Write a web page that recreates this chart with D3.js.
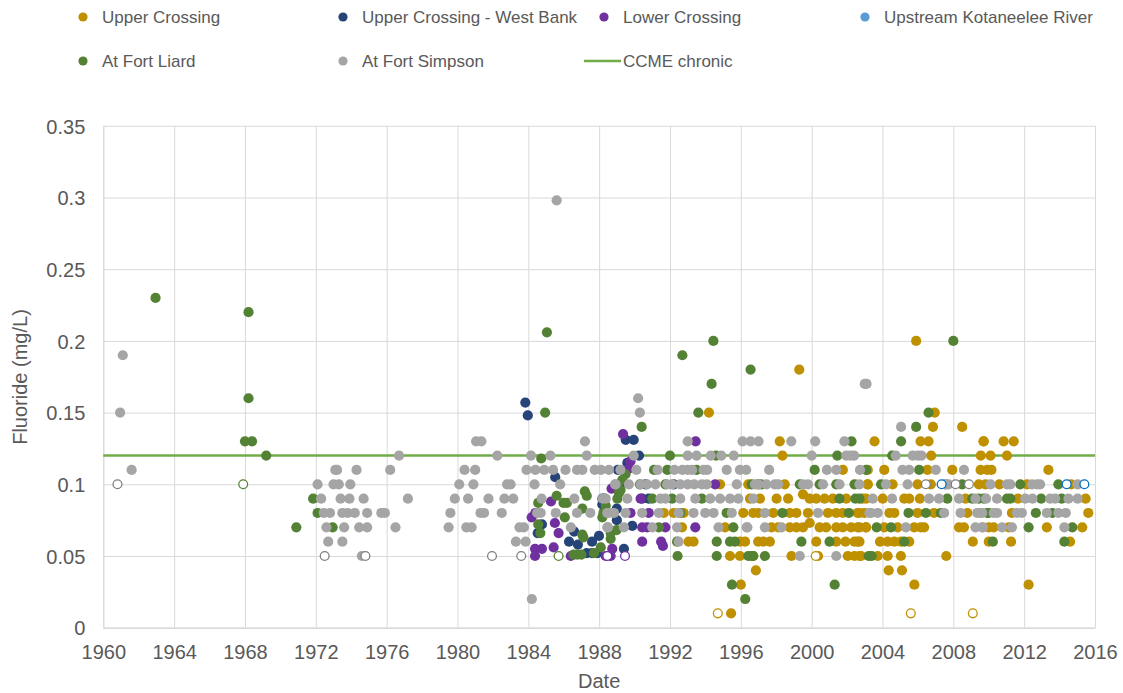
<!DOCTYPE html>
<html>
<head>
<meta charset="utf-8">
<script src="https://cdn.jsdelivr.net/npm/d3@7/dist/d3.min.js"></script>
<style>
  html, body { margin: 0; padding: 0; background: #ffffff; }
  svg { display: block; }
  text { font-family: "Liberation Sans", Arial, sans-serif; fill: #595959; }
</style>
</head>
<body>
<svg id="chart" width="1123" height="693"></svg>
<script>
// ---------------- DATA ----------------
const xTicks = [1960, 1964, 1968, 1972, 1976, 1980, 1984, 1988, 1992, 1996, 2000, 2004, 2008, 2012, 2016];
const yTicks = [0, 0.05, 0.1, 0.15, 0.2, 0.25, 0.3, 0.35];
const yTickLabels = ["0", "0.05", "0.1", "0.15", "0.2", "0.25", "0.3", "0.35"];
const ccmeChronic = 0.12;
const xTitle = "Date";
const yTitle = "Fluoride (mg/L)";

const seriesNames = ["Upper Crossing", "Upper Crossing - West Bank", "Lower Crossing",
  "Upstream Kotaneelee River", "At Fort Liard", "At Fort Simpson", "CCME chronic"];
const seriesColors = ["#BF9000", "#264478", "#7030A0", "#5B9BD5", "#548235", "#A5A5A5", "#70AD47"];

// [decimal year, fluoride mg/L] ; "ND" arrays are values below detection limit (open markers)
const upperCrossing = [
  [1994.2,0.15],[1999.3,0.18],[2005.9,0.2],
  [1994.83,0.10],[1996.42,0.10],[1996.52,0.09],[1991.65,0.08],[1992.21,0.08],[1992.77,0.08],[1996.14,0.08],[1996.7,0.08],
  [1992.68,0.07],[1995.11,0.07],[1993.05,0.06],[1993.33,0.06],[1996.24,0.06],[1996.98,0.06],
  [1995.39,0.05],[1995.95,0.05],[1996.7,0.05],[1996.85,0.04],[1996.0,0.03],[1995.45,0.01],
  [1998.2,0.13],[1998.35,0.12],[2001.76,0.11],[1998.48,0.10],[2003.16,0.10],
  [1997.08,0.09],[1998.02,0.09],[1998.67,0.09],[1999.51,0.093],[1999.89,0.09],[2000.26,0.09],[2000.73,0.09],[2001.2,0.09],[2001.95,0.09],[2002.88,0.09],
  [1996.99,0.08],[1997.83,0.08],[1998.76,0.08],[1999.14,0.08],[1999.79,0.08],[2000.92,0.08],[2001.39,0.08],[2001.76,0.08],[2002.6,0.08],[2002.98,0.08],
  [1997.73,0.07],[1998.11,0.07],[1998.76,0.07],[1999.14,0.07],[1999.51,0.07],[1999.89,0.073],[2000.45,0.07],[2000.82,0.07],[2001.39,0.07],[2001.76,0.07],[2002.23,0.07],[2002.6,0.07],[2003.07,0.07],
  [1995.96,0.06],[1997.27,0.06],[1997.64,0.06],[2000.26,0.06],[2001.39,0.06],[2001.91,0.06],[2002.42,0.06],[2002.6,0.06],
  [1998.86,0.05],[2000.36,0.05],[2002.04,0.05],[2002.42,0.05],[2002.79,0.05],
  [2006.95,0.15],[2006.85,0.14],[2008.5,0.14],[2003.55,0.13],[2006.15,0.13],[2006.6,0.13],[2009.7,0.13],[2006.75,0.12],[2009.55,0.12],
  [2003.17,0.11],[2004.1,0.11],[2006.54,0.11],[2007.94,0.11],[2009.54,0.11],[2009.91,0.11],
  [2003.17,0.10],[2004.57,0.10],[2005.98,0.10],[2006.73,0.10],[2009.44,0.10],[2009.82,0.10],
  [2003.07,0.09],[2004.01,0.09],[2005.23,0.09],[2005.51,0.09],[2006.11,0.09],[2008.69,0.09],
  [2002.7,0.08],[2004.39,0.08],[2004.67,0.08],[2005.98,0.08],[2006.91,0.08],[2008.79,0.08],
  [2002.7,0.07],[2003.07,0.07],[2004.1,0.07],[2004.85,0.07],[2005.79,0.07],[2006.16,0.07],[2006.35,0.07],[2008.32,0.07],[2008.6,0.07],[2010.0,0.07],
  [2002.7,0.06],[2003.86,0.06],[2004.29,0.06],[2004.67,0.06],[2005.04,0.06],[2005.51,0.06],[2009.1,0.06],[2010.0,0.06],
  [2002.7,0.05],[2003.73,0.05],[2004.29,0.05],[2005.04,0.05],[2007.6,0.05],[2004.35,0.04],[2005.1,0.04],[2005.8,0.03],
  [2009.72,0.13],[2010.84,0.13],[2011.41,0.13],[2010.1,0.12],[2011.03,0.12],[2010.15,0.11],[2013.37,0.11],
  [2010.6,0.10],[2012.16,0.10],[2014.65,0.10],[2011.65,0.09],[2015.47,0.09],[2011.31,0.08],[2015.62,0.08],
  [2010.28,0.07],[2011.13,0.07],[2013.28,0.07],[2015.28,0.07],[2011.26,0.06],[2014.59,0.06],[2012.25,0.03]
];
const upperCrossingND = [[1994.7,0.01],[2005.6,0.01],[2009.1,0.01],[2000.23,0.05]];

const upperCrossingWestBank = [
  [1983.83,0.157],[1983.97,0.148],[1985.52,0.105],[1984.77,0.072],[1984.53,0.066],[1986.59,0.067],[1987.99,0.064],
  [1987.3,0.052],[1987.6,0.052],[1987.9,0.052],[1989.06,0.11],[1988.18,0.086],[1989.0,0.083],[1989.0,0.075],
  [1989.5,0.131],[1989.95,0.131],[1990.25,0.12],[1989.59,0.115],[1988.18,0.09],[1989.87,0.071],[1989.4,0.055],
  [1989.21,0.10],[1990.62,0.10],[1992.21,0.10],[1988.28,0.09],[1990.43,0.09],[1990.8,0.09],
  [1986.3,0.06],[1986.8,0.058],[1987.6,0.06]
];

const lowerCrossing = [
  [1985.28,0.088],[1984.19,0.077],[1985.5,0.073],[1985.71,0.066],[1984.38,0.055],[1984.77,0.055],[1984.38,0.05],
  [1985.43,0.056],[1986.4,0.05],[1988.7,0.097],[1988.74,0.055],[1984.4,0.08],[1989.35,0.135],[1989.77,0.116],
  [1989.68,0.111],[1988.37,0.05],[1988.65,0.05],[1990.34,0.09],[1989.77,0.08],[1990.8,0.08],[1990.43,0.07],
  [1990.71,0.07],[1991.74,0.07],[1993.43,0.07],[1990.43,0.06],[1991.5,0.06],[1991.6,0.057],[1993.45,0.13],[1994.55,0.10]
];
const lowerCrossingND = [[1988.46,0.05],[1989.46,0.05]];

const upstreamKotaneelee = [[2007.55,0.10]];
const upstreamKotaneeleeND = [[2007.34,0.10],[2014.4,0.10],[2015.4,0.10]];

const atFortLiard = [
  [1962.95,0.23],[1968.2,0.22],[1968.2,0.16],[1968.0,0.13],[1968.4,0.13],[1969.2,0.12],[1970.9,0.07],[1971.85,0.09],[1972.1,0.08],[1972.95,0.07],
  [1984.95,0.15],[1985.05,0.206],[1984.73,0.118],[1985.6,0.092],[1985.99,0.087],[1986.18,0.087],[1984.56,0.087],[1984.56,0.072],
  [1984.68,0.066],[1986.06,0.077],[1987.05,0.083],[1987.19,0.095],[1987.3,0.092],[1987.05,0.065],[1987.11,0.063],[1988.18,0.077],
  [1988.65,0.066],[1988.65,0.062],[1986.55,0.051],[1986.77,0.051],[1987.0,0.051],[1987.71,0.052],[1988.09,0.056],[1989.12,0.094],
  [1988.98,0.068],[1989.49,0.107],[1989.3,0.103],[1989.21,0.096],[1988.37,0.085],[1988.24,0.08],
  [1990.4,0.14],[1993.6,0.15],[1992.0,0.12],[1994.6,0.12],[1991.1,0.11],[1991.85,0.11],[1993.5,0.11],
  [1990.3,0.10],[1991.74,0.10],[1996.61,0.10],[1996.98,0.10],[1989.03,0.09],[1991.0,0.09],[1992.12,0.09],[1993.8,0.09],
  [1992.58,0.08],[1995.2,0.08],[1991.37,0.07],[1995.58,0.07],[1992.4,0.06],[1994.64,0.06],[1995.39,0.06],[1995.67,0.06],
  [1992.43,0.05],[1994.64,0.05],[1996.61,0.05],[1992.7,0.19],[1994.45,0.20],[1994.35,0.17],[1996.55,0.18],[1995.5,0.03],[1996.25,0.02],
  [1997.17,0.10],[1999.33,0.10],[2000.45,0.10],[2001.39,0.10],[2002.42,0.10],[2001.57,0.09],[2002.47,0.09],[1998.35,0.08],[2002.1,0.08],
  [1999.42,0.06],[2001.01,0.06],[1996.42,0.05],[1996.7,0.05],[1997.36,0.05],[2003.22,0.05],[2002.25,0.13],[2001.45,0.12],
  [2000.17,0.11],[2003.07,0.11],[2001.3,0.03],
  [2006.6,0.15],[2005.9,0.14],[2005.05,0.13],[2004.55,0.12],[2006.07,0.11],[2003.92,0.10],[2008.5,0.10],
  [2002.7,0.09],[2007.66,0.09],[2009.07,0.09],[2009.72,0.09],[2005.47,0.08],[2006.45,0.08],[2007.29,0.08],[2009.91,0.08],
  [2003.67,0.07],[2004.48,0.07],[2005.23,0.06],[2003.39,0.05],[2008.0,0.2],
  [2011.78,0.10],[2013.93,0.10],[2009.44,0.09],[2011.03,0.09],[2011.22,0.09],[2012.96,0.09],[2014.12,0.09],
  [2010.0,0.08],[2012.66,0.08],[2013.6,0.08],[2012.25,0.07],[2014.72,0.07],[2010.23,0.06],[2014.27,0.06]
];
const atFortLiardND = [[1967.9,0.10],[1985.71,0.05]];

const atFortSimpson = [
  [1960.95,0.15],[1961.1,0.19],[1961.6,0.11],
  [1972.1,0.10],[1973.0,0.10],[1973.1,0.11],[1972.3,0.09],[1972.45,0.08],[1972.8,0.08],[1972.6,0.07],[1972.7,0.06],
  [1973.2,0.11],[1974.3,0.11],[1976.2,0.11],[1976.7,0.12],[1973.3,0.10],[1973.95,0.10],
  [1973.4,0.09],[1973.9,0.09],[1974.7,0.09],[1977.2,0.09],
  [1973.5,0.08],[1973.8,0.08],[1974.2,0.08],[1974.9,0.08],[1975.7,0.08],[1975.9,0.08],
  [1973.6,0.07],[1974.45,0.07],[1974.9,0.07],[1976.5,0.07],[1973.5,0.06],[1974.6,0.05],
  [1980.4,0.11],[1981.0,0.11],[1981.05,0.13],[1981.35,0.13],[1980.1,0.10],[1980.9,0.10],[1979.85,0.09],[1980.6,0.09],
  [1979.6,0.08],[1981.3,0.08],[1979.5,0.07],[1980.5,0.07],[1980.8,0.07],
  [1982.25,0.12],[1982.8,0.10],[1983.0,0.10],[1981.75,0.09],[1982.65,0.09],[1983.15,0.09],[1981.5,0.08],[1982.5,0.08],
  [1983.5,0.07],[1983.75,0.07],[1983.3,0.06],[1983.85,0.06],
  [1984.15,0.12],[1985.25,0.12],[1987.3,0.12],[1987.2,0.13],[1983.9,0.11],[1984.4,0.11],[1984.9,0.11],[1985.4,0.11],
  [1986.1,0.11],[1986.75,0.11],[1987.05,0.11],[1987.75,0.11],[1988.1,0.11],[1988.55,0.11],
  [1984.35,0.10],[1985.8,0.10],[1988.9,0.10],[1984.75,0.09],[1986.6,0.09],[1988.2,0.09],
  [1984.5,0.08],[1984.7,0.08],[1985.55,0.08],[1986.75,0.08],[1987.5,0.08],[1988.5,0.08],[1988.75,0.08],
  [1986.4,0.07],[1988.5,0.07],[1984.2,0.02],[1985.6,0.298],
  [1990.2,0.16],[1990.3,0.15],[1993.0,0.13],[1996.1,0.13],[1996.55,0.13],[1997.0,0.13],
  [1989.95,0.12],[1993.0,0.12],[1993.5,0.12],[1994.3,0.12],[1994.9,0.12],[1995.6,0.12],
  [1989.2,0.11],[1990.1,0.11],[1991.3,0.11],[1992.25,0.11],[1992.7,0.11],[1993.0,0.11],[1993.25,0.11],[1993.9,0.11],
  [1994.1,0.11],[1995.2,0.11],[1995.95,0.11],[1996.3,0.11],
  [1988.93,0.10],[1989.68,0.10],[1990.34,0.10],[1990.71,0.10],[1991.18,0.10],[1991.84,0.10],[1992.12,0.10],[1992.58,0.10],
  [1993.0,0.10],[1993.37,0.10],[1993.8,0.10],[1994.08,0.10],[1995.77,0.10],[1996.8,0.10],
  [1988.37,0.09],[1989.59,0.09],[1991.46,0.09],[1991.74,0.09],[1992.58,0.09],[1993.43,0.09],[1994.27,0.09],[1994.83,0.09],
  [1995.39,0.09],[1995.86,0.09],[1996.7,0.09],
  [1988.46,0.08],[1988.84,0.08],[1989.49,0.08],[1990.43,0.08],[1991.37,0.08],[1992.49,0.08],[1993.33,0.08],[1993.99,0.08],
  [1994.46,0.08],[1995.49,0.08],
  [1988.46,0.07],[1989.4,0.07],[1991.0,0.07],[1992.4,0.07],[1994.74,0.07],[1996.33,0.07],[1992.49,0.06],
  [1998.85,0.13],[2000.2,0.13],[2001.85,0.13],[2000.0,0.12],[2001.95,0.12],[2002.2,0.12],[2002.4,0.12],
  [1997.6,0.11],[2000.86,0.11],[2001.39,0.11],[2002.73,0.11],
  [1997.0,0.10],[1997.45,0.10],[1997.92,0.10],[1998.11,0.10],[1999.51,0.10],[1999.79,0.10],[2000.64,0.10],[2001.57,0.10],[2002.7,0.10],
  [1997.36,0.08],[2000.36,0.08],[2003.26,0.08],[1996.37,0.07],[1997.36,0.07],[1998.3,0.07],[1999.33,0.05],[2001.39,0.05],
  [2003.0,0.17],[2003.1,0.17],
  [2005.05,0.14],[2004.75,0.12],[2005.7,0.12],[2006.0,0.12],[2006.2,0.12],[2005.13,0.11],[2005.51,0.11],[2007.01,0.11],[2008.6,0.11],
  [2004.2,0.10],[2005.42,0.10],[2007.57,0.10],[2007.72,0.10],
  [2003.45,0.09],[2004.54,0.09],[2006.63,0.09],[2007.19,0.09],[2008.32,0.09],[2009.25,0.09],
  [2003.36,0.08],[2003.73,0.08],[2007.48,0.08],[2008.41,0.08],[2009.35,0.08],[2009.63,0.08],
  [2005.32,0.07],[2009.25,0.07],[2009.67,0.07],
  [2010.1,0.10],[2011.03,0.10],[2011.22,0.10],[2012.44,0.10],[2012.72,0.10],[2012.9,0.10],[2015.02,0.10],
  [2009.85,0.09],[2010.47,0.09],[2012.06,0.09],[2012.47,0.09],[2013.47,0.09],[2013.75,0.09],[2014.5,0.09],[2015.02,0.09],
  [2009.53,0.08],[2010.28,0.08],[2010.47,0.08],[2011.59,0.08],[2011.87,0.08],[2013.28,0.08],[2013.93,0.08],[2014.35,0.08],
  [2009.63,0.07],[2010.75,0.07],[2011.31,0.07],[2014.27,0.07]
];
const atFortSimpsonND = [[1960.8,0.10],[1972.5,0.05],[1974.8,0.05],[1981.95,0.05],[1983.6,0.05],[2006.45,0.10],[2008.13,0.10],[2008.88,0.10]];

// ---------------- CHART ----------------
const svg = d3.select("#chart");
const x = d3.scaleLinear().domain([1960, 2016]).range([103.3, 1095]);
const y = d3.scaleLinear().domain([0, 0.35]).range([627.7, 125.8]);
const fontFam = '"Liberation Sans", Arial, sans-serif';

// gridlines
const gridG = svg.append("g");
gridG.append("g").attr("transform", "translate(0,627.7)")
  .call(d3.axisBottom(x).tickValues(xTicks).tickSize(-(627.7 - 125.8)).tickFormat(""))
  .call(g => g.select(".domain").remove())
  .call(g => g.selectAll("line").attr("stroke", "#d9d9d9").attr("stroke-width", 1));
gridG.append("g").attr("transform", "translate(103.3,0)")
  .call(d3.axisLeft(y).tickValues(yTicks).tickSize(-(1095 - 103.3)).tickFormat(""))
  .call(g => g.select(".domain").remove())
  .call(g => g.selectAll("line").attr("stroke", "#d9d9d9").attr("stroke-width", 1));

// axes labels
const xAxisG = svg.append("g").attr("transform", "translate(0,627.7)")
  .call(d3.axisBottom(x).tickValues(xTicks).tickSize(0).tickFormat(d3.format("d")));
xAxisG.select(".domain").attr("stroke", "#d9d9d9").attr("stroke-width", 1.5);
xAxisG.selectAll("text").attr("y", 31).attr("dy", 0)
  .style("font-size", "20px").style("font-family", fontFam).attr("fill", "#595959");

const yAxisG = svg.append("g").attr("transform", "translate(103.3,0)")
  .call(d3.axisLeft(y).tickValues(yTicks).tickSize(0).tickFormat((d, i) => yTickLabels[i]));
yAxisG.select(".domain").attr("stroke", "#d9d9d9").attr("stroke-width", 1);
yAxisG.selectAll("text").attr("x", -18).attr("dy", "0.36em")
  .style("font-size", "20px").style("font-family", fontFam).attr("fill", "#595959");

// CCME chronic guideline
svg.append("line")
  .attr("x1", x(1960)).attr("x2", x(2016))
  .attr("y1", y(ccmeChronic)).attr("y2", y(ccmeChronic))
  .attr("stroke", seriesColors[6]).attr("stroke-width", 2.5);

// points
const filledSeries = [upperCrossing, upperCrossingWestBank, lowerCrossing, upstreamKotaneelee, atFortLiard, atFortSimpson];
const ndSeries = [upperCrossingND, null, lowerCrossingND, upstreamKotaneeleeND, atFortLiardND, atFortSimpsonND];
const ndStroke = ["#BF9000", "#264478", "#7030A0", "#0070C0", "#548235", "#7F7F7F"];

filledSeries.forEach((data, i) => {
  svg.append("g").selectAll("circle").data(data).join("circle")
    .attr("cx", d => x(d[0])).attr("cy", d => y(d[1])).attr("r", 5.1)
    .attr("fill", seriesColors[i]);
});
ndSeries.forEach((data, i) => {
  if (!data) return;
  svg.append("g").selectAll("circle").data(data).join("circle")
    .attr("cx", d => x(d[0])).attr("cy", d => y(d[1])).attr("r", 4.4)
    .attr("fill", "#ffffff").attr("stroke", ndStroke[i]).attr("stroke-width", 1.3);
});

// axis titles
svg.append("text").attr("x", (x(1960) + x(2016)) / 2).attr("y", 688)
  .attr("text-anchor", "middle").style("font-size", "20px").text(xTitle);
svg.append("text").attr("transform", "translate(27,377) rotate(-90)")
  .attr("text-anchor", "middle").style("font-size", "20px").text(yTitle);

// legend
const legendPos = [[83, 17], [343, 17], [604, 17], [865, 17], [83, 61], [343, 61], [604, 61]];
const legend = svg.append("g");
seriesNames.forEach((name, i) => {
  const [lx, ly] = legendPos[i];
  if (i === 6) {
    legend.append("line").attr("x1", lx - 20).attr("x2", lx + 17).attr("y1", ly).attr("y2", ly)
      .attr("stroke", seriesColors[i]).attr("stroke-width", 2.5);
  } else {
    legend.append("circle").attr("cx", lx).attr("cy", ly).attr("r", 4.6).attr("fill", seriesColors[i]);
  }
  legend.append("text").attr("x", lx + 19).attr("y", ly).attr("dy", "0.35em")
    .style("font-size", "17px").text(name);
});
</script>
</body>
</html>
